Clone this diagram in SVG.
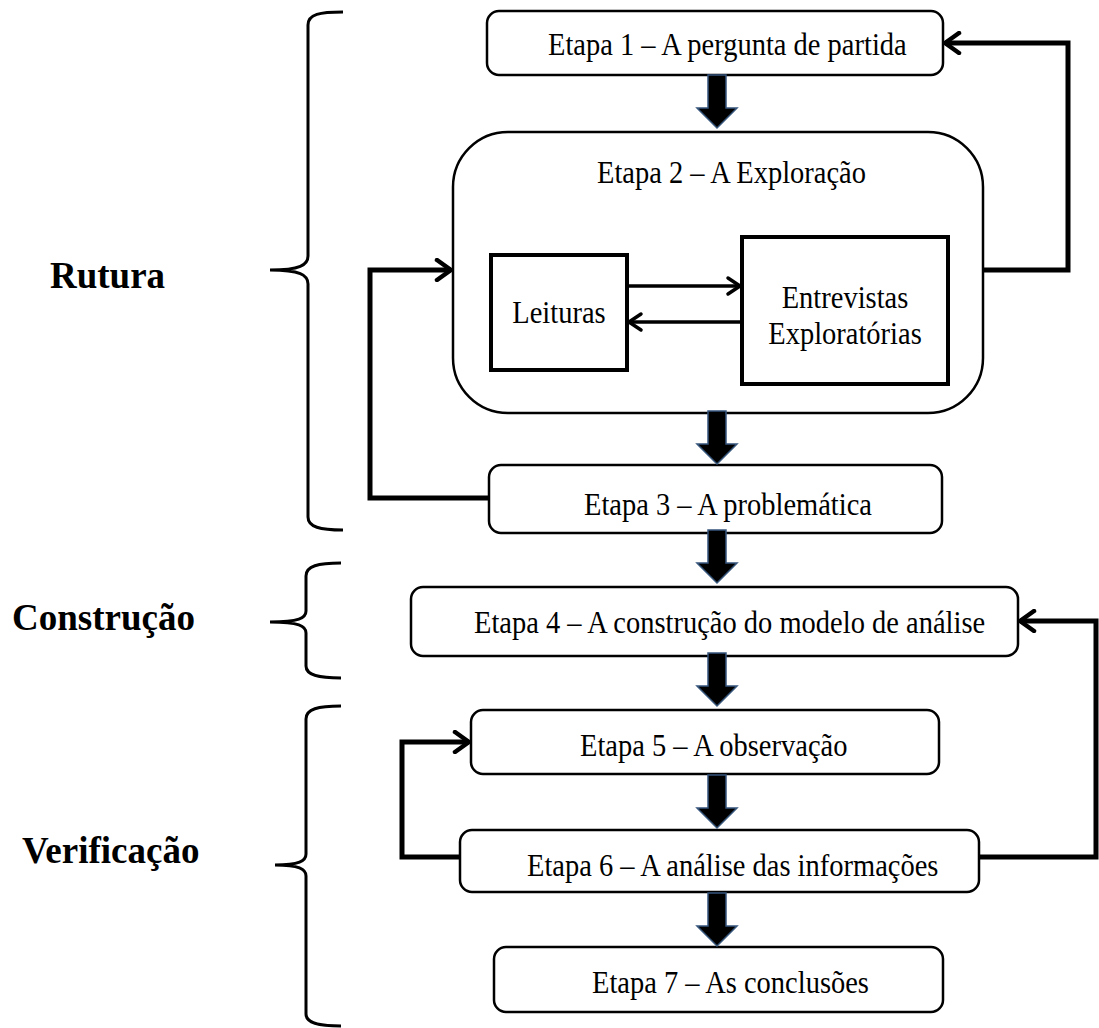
<svg xmlns="http://www.w3.org/2000/svg" width="1099" height="1028" viewBox="0 0 1099 1028">
  <style>
    .box { fill: #fff; stroke: #000; stroke-width: 2.5; }
    .inner { fill: #fff; stroke: #000; stroke-width: 4; }
    .lbl { font-family: "Liberation Serif", "Times New Roman", serif; font-size: 28.5px; fill: #000; }
    .phase { font-family: "Liberation Serif", "Times New Roman", serif; font-size: 37px; font-weight: bold; fill: #000; }
    .brace { fill: none; stroke: #000; stroke-width: 3; }
    .loop { fill: none; stroke: #000; stroke-width: 5; marker-end: url(#chev); }
    .link { fill: none; stroke: #000; stroke-width: 3.5; marker-end: url(#chevS); }
    .block { fill: #000; stroke: #36567c; stroke-width: 1.5; }
  </style>
  <defs>
    <marker id="chev" markerUnits="userSpaceOnUse" viewBox="0 0 20 24" refX="17" refY="12" markerWidth="20" markerHeight="24" orient="auto">
      <path d="M3,2 L17,12 L3,22" fill="none" stroke="#000" stroke-width="4.5" stroke-linecap="round" stroke-linejoin="round"/>
    </marker>
    <marker id="chevS" markerUnits="userSpaceOnUse" viewBox="0 0 18 22" refX="15" refY="11" markerWidth="18" markerHeight="22" orient="auto">
      <path d="M3,3 L15,11 L3,19" fill="none" stroke="#000" stroke-width="3.5" stroke-linecap="round" stroke-linejoin="round"/>
    </marker>
    <!-- block arrow pointing down, tip at origin -->
    <path id="down" d="M-9,-53 L9,-53 L9,-20 L20,-20 L0,0 L-20,-20 L-9,-20 Z"/>
  </defs>

  <!-- phase labels with their braces -->
  <g id="phase-rutura">
    <path class="brace" d="M343,12 C320,12 308,14 308,25 L308,256 C308,265 300,270 270,270 C300,270 308,275 308,284 L308,517 C308,527 320,530 343,530"/>
    <text class="phase" x="50" y="288">Rutura</text>
  </g>
  <g id="phase-construcao">
    <path class="brace" d="M341,563 C318,563 306,566 306,576 L306,611 C306,618 299,622 270,622 C299,622 306,626 306,633 L306,666 C306,675 318,678 341,678"/>
    <text class="phase" x="12" y="630">Construção</text>
  </g>
  <g id="phase-verificacao">
    <path class="brace" d="M341,706 C318,706 306,709 306,719 L306,854 C306,861 299,865 275,865 C299,865 306,869 306,876 L306,1014 C306,1023 318,1026 341,1026"/>
    <text class="phase" x="22" y="863">Verificação</text>
  </g>

  <!-- stage boxes; labels are slightly stretched vertically -->
  <g id="etapa1">
    <rect class="box" x="487" y="11" width="456" height="64" rx="12"/>
    <text class="lbl" transform="translate(548,55) scale(1,1.12)">Etapa 1 – A pergunta de partida</text>
  </g>
  <g id="etapa2">
    <rect class="box" x="453" y="132" width="530" height="281" rx="55"/>
    <text class="lbl" transform="translate(597,183) scale(1,1.12)">Etapa 2 – A Exploração</text>
  </g>
  <g id="leituras">
    <rect class="inner" x="491" y="255" width="136" height="115"/>
    <text class="lbl" text-anchor="middle" transform="translate(559,323) scale(1,1.12)">Leituras</text>
  </g>
  <g id="entrevistas">
    <rect class="inner" x="742" y="237" width="206" height="147"/>
    <text class="lbl" text-anchor="middle" transform="translate(845,308) scale(1,1.12)">Entrevistas</text>
    <text class="lbl" text-anchor="middle" transform="translate(845,344) scale(1,1.12)">Exploratórias</text>
  </g>
  <g id="etapa3">
    <rect class="box" x="489" y="465" width="453" height="68" rx="12"/>
    <text class="lbl" transform="translate(584,515) scale(1,1.12)">Etapa 3 – A problemática</text>
  </g>
  <g id="etapa4">
    <rect class="box" x="411" y="587" width="607" height="69" rx="12"/>
    <text class="lbl" transform="translate(474,633) scale(1,1.12)">Etapa 4 – A construção do modelo de análise</text>
  </g>
  <g id="etapa5">
    <rect class="box" x="471" y="710" width="468" height="64" rx="12"/>
    <text class="lbl" transform="translate(580,756) scale(1,1.12)">Etapa 5 – A observação</text>
  </g>
  <g id="etapa6">
    <rect class="box" x="460" y="830" width="519" height="62" rx="12"/>
    <text class="lbl" transform="translate(527,876) scale(1,1.12)">Etapa 6 – A análise das informações</text>
  </g>
  <g id="etapa7">
    <rect class="box" x="494" y="947" width="449" height="65" rx="12"/>
    <text class="lbl" transform="translate(592,993) scale(1,1.12)">Etapa 7 – As conclusões</text>
  </g>

  <!-- connectors: block arrows between stages, feedback loops, inner links -->
  <g id="connectors">
    <use href="#down" class="block" x="717" y="128"/>
    <use href="#down" class="block" x="717" y="464"/>
    <use href="#down" class="block" x="717" y="583"/>
    <use href="#down" class="block" x="717" y="706"/>
    <use href="#down" class="block" x="717" y="828"/>
    <use href="#down" class="block" x="717" y="946"/>
    <path class="loop" d="M983,270 L1068,270 L1068,43 L945,43"/>
    <path class="loop" d="M489,498 L370,498 L370,270 L451,270"/>
    <path class="loop" d="M460,857 L402,857 L402,742 L469,742"/>
    <path class="loop" d="M979,857 L1096,857 L1096,621 L1020,621"/>
    <path class="link" d="M629,286 L740,286"/>
    <path class="link" d="M740,322 L629,322"/>
  </g>
</svg>
